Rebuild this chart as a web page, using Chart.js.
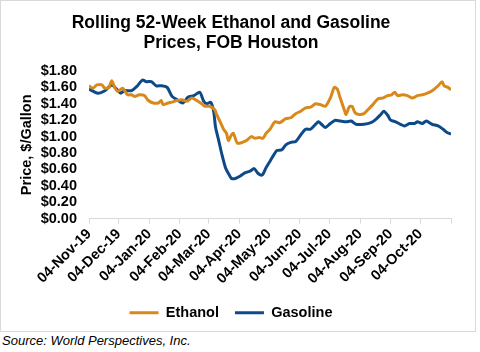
<!DOCTYPE html>
<html>
<head>
<meta charset="utf-8">
<script src="https://cdn.jsdelivr.net/npm/chart.js@4"></script>
<style>
  body { margin: 0; background: #fff; font-family: 'Liberation Sans', Arial, sans-serif; }
  #box { position: absolute; left: 0; top: 0; width: 474px; height: 330px; border: 1px solid #d9d9d9; }
  #source { position: absolute; left: 2px; top: 333px; font-size: 13px; font-style: italic; color: #000; }
</style>
</head>
<body>
<div id="box"><canvas id="myChart" width="474" height="330"></canvas></div>
<div id="source">Source: World Perspectives, Inc.</div>
<script>
// days counted from 04-Nov-19
const startDate = '2019-11-04'
const tickDates = ['2019-11-04', '2019-12-04', '2020-01-04', '2020-02-04', '2020-03-04', '2020-04-04',
    '2020-05-04', '2020-06-04', '2020-07-04', '2020-08-04', '2020-09-04', '2020-10-04', '2020-11-04']
const tickLabels = ['04-Nov-19', '04-Dec-19', '04-Jan-20', '04-Feb-20', '04-Mar-20', '04-Apr-20',
    '04-May-20', '04-Jun-20', '04-Jul-20', '04-Aug-20', '04-Sep-20', '04-Oct-20', '']

const ethanolDays = [0, 4, 8, 13, 16, 20, 23, 26, 29, 34, 39, 43, 46, 51, 56, 60, 65, 70, 73, 75, 80, 84, 89,
    94, 99, 104, 109, 114, 117, 122, 127, 129, 133, 136, 139, 141, 144, 146, 150, 155, 160, 164, 168, 172, 176,
    179, 183, 188, 193, 199, 204, 209, 214, 219, 224, 229, 234, 239, 244, 248, 251, 254, 258, 260, 263, 266, 269,
    273, 278, 283, 287, 292, 297, 302, 306, 309, 312, 317, 322, 327, 332, 337, 342, 347, 353, 357, 359, 363, 366]
const ethanolPrices = [1.62, 1.59, 1.63, 1.63, 1.59, 1.60, 1.68, 1.60, 1.55, 1.59, 1.51, 1.51, 1.49, 1.51, 1.50,
    1.44, 1.41, 1.41, 1.44, 1.39, 1.41, 1.42, 1.44, 1.45, 1.43, 1.47, 1.44, 1.40, 1.37, 1.37, 1.33, 1.27, 1.17,
    1.09, 1.04, 0.95, 1.02, 1.04, 0.92, 0.93, 0.96, 1.00, 0.98, 0.99, 0.98, 1.04, 1.09, 1.18, 1.17, 1.22, 1.23,
    1.28, 1.31, 1.35, 1.36, 1.40, 1.39, 1.37, 1.47, 1.60, 1.58, 1.47, 1.33, 1.27, 1.36, 1.37, 1.29, 1.27, 1.28,
    1.34, 1.39, 1.46, 1.47, 1.50, 1.51, 1.54, 1.50, 1.51, 1.50, 1.47, 1.50, 1.51, 1.53, 1.56, 1.62, 1.67, 1.62,
    1.60, 1.57]

const gasolineDays = [0, 9, 16, 23, 28, 32, 36, 43, 49, 54, 58, 63, 68, 73, 79, 84, 89, 95, 100, 106, 112, 116,
    119, 123, 126, 128, 131, 134, 138, 141, 144, 148, 153, 158, 163, 167, 171, 175, 179, 183, 187, 190, 195, 199,
    204, 209, 214, 219, 224, 229, 232, 236, 239, 244, 249, 254, 260, 265, 270, 278, 285, 290, 295, 298, 302, 305,
    310, 315, 319, 324, 329, 332, 337, 341, 347, 353, 358, 362, 366]
const gasolinePrices = [1.58, 1.53, 1.56, 1.63, 1.58, 1.53, 1.56, 1.56, 1.62, 1.69, 1.67, 1.67, 1.62, 1.62, 1.60,
    1.49, 1.45, 1.41, 1.48, 1.50, 1.54, 1.43, 1.40, 1.42, 1.31, 1.11, 0.96, 0.80, 0.62, 0.55, 0.49, 0.49, 0.52,
    0.56, 0.58, 0.61, 0.55, 0.53, 0.62, 0.70, 0.78, 0.83, 0.84, 0.90, 0.93, 0.94, 1.02, 1.09, 1.09, 1.15, 1.18,
    1.14, 1.11, 1.16, 1.20, 1.19, 1.18, 1.19, 1.15, 1.15, 1.17, 1.21, 1.27, 1.31, 1.26, 1.20, 1.18, 1.15, 1.13,
    1.16, 1.16, 1.18, 1.16, 1.19, 1.15, 1.13, 1.09, 1.05, 1.03]

const dayOf = (s) => (Date.parse(s) - Date.parse(startDate)) / 86400000
const tickDays = tickDates.map(dayOf)

const toPoints = (days, prices) => days.map((d, i) => ({ x: d, y: prices[i] }))

const font = { family: "'Liberation Sans', Arial, sans-serif", size: 14.5, weight: 'bold' }

var ctx = document.getElementById('myChart').getContext('2d');
var chart = new Chart(ctx, {
    type: 'line',
    data: {
        datasets: [{
            label: 'Ethanol',
            data: toPoints(ethanolDays, ethanolPrices),
            borderColor: '#D8891A',
            backgroundColor: '#D8891A',
            borderWidth: 3,
            pointRadius: 0,
            tension: 0.25
        }, {
            label: 'Gasoline',
            data: toPoints(gasolineDays, gasolinePrices),
            borderColor: '#0E4A8A',
            backgroundColor: '#0E4A8A',
            borderWidth: 3,
            pointRadius: 0,
            tension: 0.25
        }]
    },
    options: {
        responsive: false,
        animation: false,
        layout: { padding: { left: 10, right: 24, top: 0, bottom: 1 } },
        plugins: {
            title: {
                display: true,
                text: ['Rolling 52-Week Ethanol and Gasoline', 'Prices, FOB Houston'],
                color: '#000',
                font: { family: font.family, size: 17.5, weight: 'bold', lineHeight: 1.143 },
                padding: { top: 12, bottom: 18 }
            },
            legend: {
                position: 'bottom',
                labels: {
                    color: '#000',
                    font: font,
                    boxWidth: 29,
                    boxHeight: 3,
                    padding: 16,
                    // keep the legend marker a thin line
                    generateLabels: (c) => Chart.defaults.plugins.legend.labels.generateLabels(c)
                        .map((l) => ({ ...l, lineWidth: 0 }))
                }
            },
            tooltip: { enabled: false }
        },
        scales: {
            x: {
                type: 'linear',
                min: 0,
                max: tickDays[tickDays.length - 1],
                afterBuildTicks: (scale) => { scale.ticks = tickDays.map((v) => ({ value: v })) },
                afterFit: (scale) => { scale.paddingLeft = 0 },
                ticks: {
                    autoSkip: false,
                    maxRotation: 45,
                    minRotation: 45,
                    color: '#000',
                    font: font,
                    padding: 2,
                    callback: (v, i) => tickLabels[i]
                },
                grid: { drawOnChartArea: false, drawTicks: true, tickLength: 5, color: '#d9d9d9' },
                border: { color: '#d9d9d9' }
            },
            y: {
                min: 0,
                max: 1.8,
                afterFit: (scale) => { scale.width = 78 },
                ticks: {
                    stepSize: 0.2,
                    autoSkip: false,
                    color: '#000',
                    font: font,
                    padding: 12,
                    callback: (v) => '$' + v.toFixed(2)
                },
                grid: { display: false, drawTicks: false },
                border: { display: false },
                title: {
                    display: true,
                    text: 'Price, $/Gallon',
                    color: '#000',
                    font: font,
                    padding: { top: 7, bottom: 0 }
                }
            }
        }
    }
});
</script>
</body>
</html>
